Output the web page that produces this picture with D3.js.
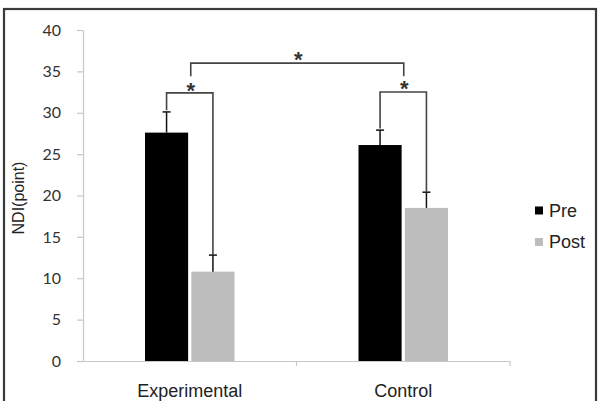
<!DOCTYPE html>
<html>
<head>
<meta charset="utf-8">
<script src="https://cdn.jsdelivr.net/npm/d3@7/dist/d3.min.js"></script>
<style>
  html, body { margin: 0; padding: 0; background: #fff; }
  svg { display: block; }
</style>
</head>
<body>
<script>
// ---- data ----
const categories = ["Experimental", "Control"];
const seriesNames = ["Pre", "Post"];
const preValues = [27.6, 26.1];
const postValues = [10.8, 18.5];
const preErrors = [2.5, 1.8];
const postErrors = [2.0, 1.9];
const yTicks = [0, 5, 10, 15, 20, 25, 30, 35, 40];
const yLabel = "NDI(point)";
const sigLabel = "*";

const W = 601, H = 401;
const svg = d3.select("body").append("svg").attr("width", W).attr("height", H);

// frame
svg.append("rect").attr("x", 4).attr("y", 9).attr("width", 592).attr("height", 400)
  .attr("fill", "#fff").attr("stroke", "#3a3a3a").attr("stroke-width", 2.2);

const y = d3.scaleLinear().domain([0, 40]).range([361, 30]);
const x0 = d3.scaleBand().domain(categories).range([83, 510]).padding(0);
const groupW = 89.5;
const x1 = d3.scaleBand().domain(seriesNames).range([0, groupW]).paddingInner(0.07);
const colors = { Pre: "#000000", Post: "#bdbdbd" };

const rows = categories.map((c, i) => ({
  cat: c,
  bars: [
    { s: "Pre", v: preValues[i], e: preErrors[i] },
    { s: "Post", v: postValues[i], e: postErrors[i] }
  ]
}));
const gx = c => x0(c) + (x0.bandwidth() - groupW) / 2;
const cx = (c, s) => gx(c) + x1(s) + x1.bandwidth() / 2;

// y axis
const yAxis = d3.axisLeft(y).tickValues(yTicks).tickSize(6).tickSizeOuter(0).tickPadding(16);
const ya = svg.append("g").attr("transform", "translate(83,0)").call(yAxis);
ya.select(".domain").attr("stroke", "#c8c8c8").attr("stroke-width", 1.2);
ya.selectAll(".tick line").attr("stroke", "#c8c8c8").attr("stroke-width", 1.2);
ya.selectAll(".tick text").attr("font-family", "Lato, 'Open Sans', sans-serif")
  .attr("font-size", 16).attr("fill", "#333");

// x axis
const xAxis = d3.axisBottom(x0).tickSize(0).tickSizeOuter(0).tickPadding(0);
const xa = svg.append("g").attr("transform", "translate(0,361)").call(xAxis);
xa.select(".domain").attr("stroke", "#c8c8c8").attr("stroke-width", 1.2);
xa.selectAll(".tick text").remove();
xa.selectAll(".tick line").remove();
// boundary ticks
const bounds = [x0.range()[0] + x0.bandwidth(), x0.range()[1]];
xa.selectAll(".bnd").data(bounds).enter().append("line")
  .attr("x1", d => d).attr("x2", d => d).attr("y1", 0).attr("y2", 5)
  .attr("stroke", "#c8c8c8").attr("stroke-width", 1.2);
svg.selectAll(".xlab").data(categories).enter().append("text")
  .attr("x", d => x0(d) + x0.bandwidth() / 2).attr("y", 396.5)
  .attr("text-anchor", "middle").attr("font-family", "Arial, 'Liberation Sans', sans-serif")
  .attr("font-size", 18).attr("fill", "#222").text(d => d);

// y label
svg.append("text").attr("transform", "translate(24,198) rotate(-90)")
  .attr("text-anchor", "middle").attr("font-family", "Arial, 'Liberation Sans', sans-serif")
  .attr("font-size", 16).attr("fill", "#222").text(yLabel);

// bars
const g = svg.selectAll(".grp").data(rows).enter().append("g")
  .attr("transform", d => `translate(${gx(d.cat)},0)`);
g.selectAll("rect").data(d => d.bars).enter().append("rect")
  .attr("x", d => x1(d.s)).attr("width", x1.bandwidth())
  .attr("y", d => y(d.v)).attr("height", d => y(0) - y(d.v))
  .attr("fill", d => colors[d.s]);

// error bars
rows.forEach(r => {
  r.bars.forEach(b => {
    const xc = cx(r.cat, b.s);
    svg.append("line").attr("x1", xc).attr("x2", xc).attr("y1", y(b.v)).attr("y2", y(b.v + b.e))
      .attr("stroke", "#111").attr("stroke-width", 1.5);
    svg.append("line").attr("x1", xc - 4).attr("x2", xc + 4).attr("y1", y(b.v + b.e)).attr("y2", y(b.v + b.e))
      .attr("stroke", "#111").attr("stroke-width", 1.5);
  });
});

// significance brackets
const bc = "#444";
const drawBracket = (xa_, ya_, xb, yb, yTop, starY) => {
  svg.append("path")
    .attr("d", `M${xa_},${y(ya_)}V${y(yTop)}H${xb}V${y(yb)}`)
    .attr("fill", "none").attr("stroke", bc).attr("stroke-width", 1.6);
  svg.append("text").attr("x", (xa_ + xb) / 2 + 1).attr("y", starY)
    .attr("text-anchor", "middle").attr("font-family", "Arial, 'Liberation Sans', sans-serif")
    .attr("font-size", 22).attr("font-weight", "bold").attr("fill", "#333").text(sigLabel);
};
// within-group brackets
rows.forEach((r, i) => {
  const top = [32.4, 32.5][i];
  const xa_ = cx(r.cat, "Pre"), xb = cx(r.cat, "Post");
  drawBracket(xa_, r.bars[0].v + r.bars[0].e + 0.2, xb, r.bars[1].v + r.bars[1].e,
    top, y(top) + [5, 4][i]);
});
// between-group bracket
const gc = c => x0(c) + x0.bandwidth() / 2 + 1;
drawBracket(gc(categories[0]), 34.4, gc(categories[1]) - 0.5, 34.4, 36.0, y(36.0) + 4);

// legend
const lg = svg.selectAll(".leg").data(seriesNames).enter().append("g")
  .attr("transform", (d, i) => `translate(535,${206.5 + i * 31.5})`);
lg.append("rect").attr("width", 8).attr("height", 8).attr("fill", d => colors[d]);
lg.append("text").attr("x", 14).attr("y", 10).attr("font-family", "Arial, 'Liberation Sans', sans-serif")
  .attr("font-size", 18).attr("fill", "#222").text(d => d);
</script>
</body>
</html>
